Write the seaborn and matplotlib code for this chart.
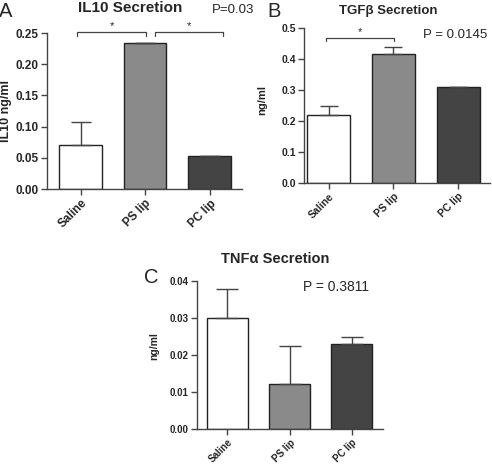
import numpy as np, pandas as pd
import seaborn as sns, matplotlib.pyplot as plt

# ────────── data ──────────
GROUPS   = ['Saline', 'PS lip', 'PC lip']
COLORS   = ['#ffffff', '#8a8a8a', '#444444']

il10_mean = [0.071, 0.234, 0.053]
il10_err  = [0.036, 0.0, 0.0]

tgfb_mean = [0.219, 0.415, 0.309]
tgfb_err  = [0.030, 0.023, 0.002]

tnfa_mean = [0.0300, 0.0122, 0.0229]
tnfa_err  = [0.0078, 0.0103, 0.0021]

sns.set_style("ticks")
plt.rcParams['font.family'] = ['Liberation Sans', 'DejaVu Sans']

fig = plt.figure(figsize=(4.92, 4.66), dpi=100)
W, H = 492, 466

def _ax(x0, x1, ytop, ybot):
    return fig.add_axes([x0/W, 1-ybot/H, (x1-x0)/W, (ybot-ytop)/H])

def _px(x, y):          # pixel (top-left origin) → figure fraction
    return x/W, 1-y/H

def _panel(ax, mean, err, ylim, yticks, fmt, xlim, fs, cap):
    df = pd.DataFrame({'group': GROUPS, 'val': mean})
    sns.barplot(data=df, x='group', y='val', hue='group', palette=COLORS,
                order=GROUPS, hue_order=GROUPS, legend=False, ax=ax,
                width=0.66, edgecolor='#222222', linewidth=1.0)
    x = np.arange(len(GROUPS))
    e = np.asarray(err)
    ax.errorbar(x, mean, yerr=[np.zeros_like(e), e], fmt='none',
                ecolor='#444444', elinewidth=1.0, capsize=cap, capthick=1.0)
    ax.set_ylim(*ylim); ax.set_xlim(*xlim)
    ax.set_yticks(yticks)
    ax.set_yticklabels([fmt.format(v) for v in yticks], fontsize=fs,
                       fontweight='bold')
    ax.set_xticks(x)
    ax.set_xticklabels(GROUPS, rotation=45, ha='right', rotation_mode='anchor',
                       fontsize=fs, fontweight='bold')
    ax.set_xlabel(''); ax.set_ylabel('')
    sns.despine(ax=ax)
    for s in ['left', 'bottom']:
        ax.spines[s].set_color('#444444'); ax.spines[s].set_linewidth(1.0)
    ax.tick_params(length=4, width=1.0, color='#444444', pad=2)

def _bracket(ax, x0, x1, y, h):
    ax.plot([x0, x0, x1, x1], [y-h, y, y, y-h], color='#444444', lw=0.9,
            clip_on=False)
    ax.text((x0+x1)/2, y+h*0.3, '*', ha='center', va='bottom', fontsize=8,
            clip_on=False)

def _label(x, y, s, **kw):
    fig.text(*_px(x, y), s, **kw)

# A
axA = _ax(47, 242, 33, 189)
_panel(axA, il10_mean, il10_err, (0, 0.25),
       [0, 0.05, 0.10, 0.15, 0.20, 0.25], '{:.2f}', (-0.52, 2.5), 8.5, 7)
_bracket(axA, -0.05, 1.02, 0.2511, 0.006)
_bracket(axA, 1.16, 2.21, 0.2511, 0.006)
_label(130, 8, 'IL10 Secretion', fontsize=11, fontweight='bold',
       ha='center', va='center')
_label(6, 111, 'IL10 ng/ml', fontsize=9, fontweight='bold', rotation=90,
       ha='center', va='center')
_label(-1, 17, 'A', fontsize=14.5, va='baseline')
_label(212, 10, 'P=0.03', fontsize=9.5, va='center')

# B
axB = _ax(304, 490, 28, 183)
_panel(axB, tgfb_mean, tgfb_err, (0, 0.5),
       [0, 0.1, 0.2, 0.3, 0.4, 0.5], '{:.1f}', (-0.38, 2.49), 7.5, 6.5)
_bracket(axB, -0.04, 1.01, 0.4687, 0.0097)
_label(388, 11, 'TGF\u03b2 Secretion', fontsize=9.5, fontweight='bold',
       ha='center', va='center')
_label(262, 100, 'ng/ml', fontsize=8, fontweight='bold', rotation=90,
       ha='center', va='center')
_label(267, 17, 'B', fontsize=14.5, va='baseline')
_label(423, 35, 'P = 0.0145', fontsize=9.5, va='center')

# C
axC = _ax(197, 383, 281, 429)
_panel(axC, tnfa_mean, tnfa_err, (0, 0.04),
       [0, 0.01, 0.02, 0.03, 0.04], '{:.2f}', (-0.49, 2.5), 7, 8)
_label(275, 259, 'TNF\u03b1 Secretion', fontsize=10.5, fontweight='bold',
       ha='center', va='center')
_label(154, 346, 'ng/ml', fontsize=7.5, fontweight='bold', rotation=90,
       ha='center', va='center')
_label(144, 283, 'C', fontsize=14.5, va='baseline')
_label(303, 287, 'P = 0.3811', fontsize=10, va='center')

fig.savefig('out.png', dpi=100)
